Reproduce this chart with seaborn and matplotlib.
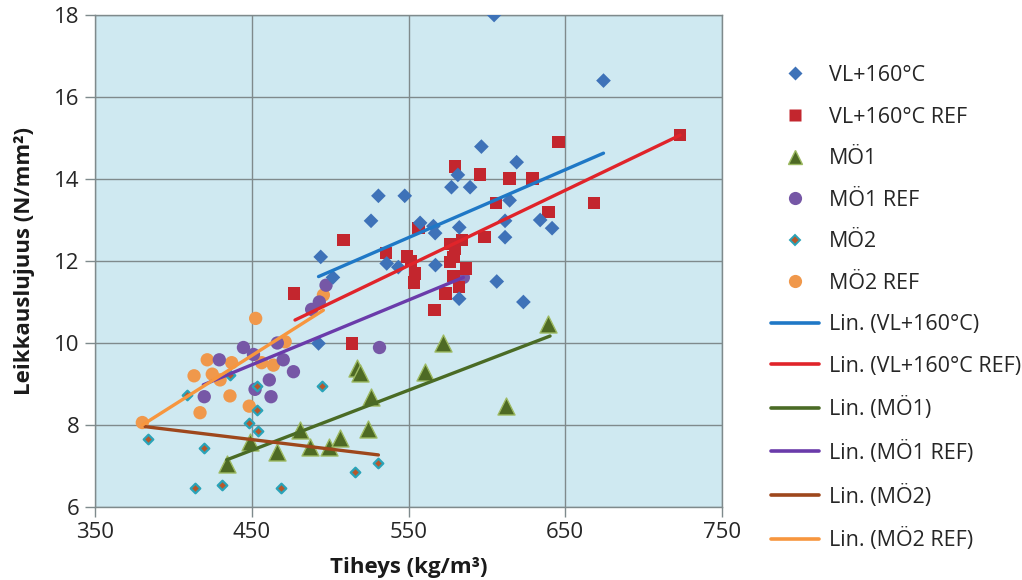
import numpy as np
import pandas as pd
import matplotlib
matplotlib.use("Agg")
import matplotlib.pyplot as plt
import seaborn as sns
from matplotlib.lines import Line2D

# ---------------- data ----------------
vl_x = [604.6, 674.4, 596.5, 619.0, 581.5, 577.4, 589.3, 530.8, 547.6, 614.5,
        526.1, 634.0, 641.6, 611.6, 611.6, 582.4, 557.4, 565.9, 567.0, 494.0,
        536.1, 543.5, 567.2, 501.8, 582.3, 606.3, 623.3, 492.6]
vl_y = [18.0, 16.4, 14.79, 14.41, 14.1, 13.8, 13.8, 13.59, 13.59, 13.48,
        12.98, 13.0, 12.8, 12.98, 12.58, 12.82, 12.93, 12.85, 12.68, 12.1,
        11.94, 11.85, 11.9, 11.6, 11.08, 11.5, 11.0, 9.99]

vlref_x = [723.3, 645.7, 579.5, 595.7, 614.3, 629.2, 606.0, 639.3, 668.4, 598.4,
           556.5, 508.5, 535.7, 549.0, 551.5, 554.2, 553.5, 576.5, 584.0, 579.5,
           578.6, 576.5, 586.5, 578.6, 582.4, 573.5, 566.5, 514.0, 477.1]
vlref_y = [15.07, 14.9, 14.31, 14.11, 14.01, 14.01, 13.41, 13.2, 13.41, 12.58,
           12.81, 12.51, 12.19, 12.11, 12.0, 11.7, 11.48, 12.42, 12.51, 12.3,
           12.1, 11.97, 11.82, 11.63, 11.37, 11.21, 10.8, 9.99, 11.21]

mo1_x = [434.0, 449.0, 466.0, 480.8, 487.2, 499.5, 506.0, 524.0, 526.1, 516.9,
         519.1, 560.6, 572.3, 612.0, 639.3]
mo1_y = [7.05, 7.59, 7.35, 7.88, 7.47, 7.47, 7.68, 7.9, 8.68, 9.4,
         9.26, 9.3, 9.99, 8.47, 10.46]

mo1ref_x = [419.7, 429.3, 444.7, 451.1, 452.1, 461.2, 462.3, 466.3, 470.1, 476.6,
            488.2, 493.1, 497.4, 531.5, 585.0]
mo1ref_y = [8.69, 9.59, 9.89, 9.72, 8.87, 9.1, 8.69, 10.0, 9.59, 9.3,
            10.82, 11.0, 11.41, 9.89, 11.6]

mo2_x = [384.0, 408.5, 413.8, 419.6, 431.2, 436.1, 448.3, 453.1, 453.6, 454.3,
         468.7, 495.0, 515.9, 530.8]
mo2_y = [7.65, 8.72, 6.46, 7.43, 6.54, 9.21, 8.04, 8.95, 8.37, 7.85,
         6.46, 8.94, 6.85, 7.07]

mo2ref_x = [380.2, 413.2, 417.0, 421.6, 424.8, 429.8, 436.1, 437.2, 448.4, 452.5,
            456.3, 463.8, 471.3, 495.7]
mo2ref_y = [8.06, 9.2, 8.3, 9.59, 9.24, 9.1, 8.71, 9.52, 8.46, 10.6,
            9.52, 9.46, 10.03, 11.17]

# trend line end points
lin_vl_x, lin_vl_y = [492.6, 674.4], [11.62, 14.63]
lin_vlref_x, lin_vlref_y = [477.6, 723.3], [10.56, 15.07]
lin_mo1_x, lin_mo1_y = [434.0, 640.3], [7.15, 10.17]
lin_mo1ref_x, lin_mo1ref_y = [419.1, 585.0], [8.98, 11.6]
lin_mo2_x, lin_mo2_y = [382.0, 530.8], [7.96, 7.27]
lin_mo2ref_x, lin_mo2ref_y = [380.2, 495.7], [8.0, 10.8]

x_ticks = [350, 450, 550, 650, 750]
y_ticks = [6, 8, 10, 12, 14, 16, 18]

# ---------------- style ----------------
sns.set_theme(style="white")
plt.rcParams['font.family'] = ['Open Sans', 'DejaVu Sans']
plt.rcParams['text.color'] = '#262626'

fig = plt.figure(figsize=(10.22, 5.8), dpi=100)
ax = fig.add_axes([95 / 1022, 1 - 507 / 580, (722 - 95) / 1022, (507 - 15) / 580])
ax.set_facecolor('#CFE9F1')
ax.set_axisbelow(True)

C_BLUE = '#3E72B8'
C_RED = '#C3262E'
C_GREEN = '#4E6A24'
C_PURPLE = '#7657A6'
C_MO2 = '#B8572A'
C_ORANGE = '#F0984B'

def scat(x, y, **kw):
    sns.scatterplot(x=x, y=y, ax=ax, legend=False, **kw)

scat(mo2ref_x, mo2ref_y, marker='o', s=92, color=C_ORANGE, edgecolor='none', zorder=3)
scat(mo1ref_x, mo1ref_y, marker='o', s=92, color=C_PURPLE, edgecolor='none', zorder=3)
scat(mo2_x, mo2_y, marker='D', s=24, color=C_MO2, edgecolor='#2AA3B8', linewidth=1.6, zorder=3)
scat(mo1_x, mo1_y, marker='^', s=150, color=C_GREEN, edgecolor='#9DBA62', linewidth=1.0, zorder=3)
scat(vlref_x, vlref_y, marker='s', s=80, color=C_RED, edgecolor='none', zorder=3)
scat(vl_x, vl_y, marker='D', s=56, color=C_BLUE, edgecolor='none', zorder=3)

L_BLUE = '#1F78C6'
L_RED = '#E0242A'
L_GREEN = '#4A6B25'
L_PURPLE = '#6A3BAA'
L_BROWN = '#9E471C'
L_ORANGE = '#F7963E'

def lin(x, y, c):
    sns.lineplot(x=x, y=y, ax=ax, color=c, linewidth=2.4, estimator=None,
                 sort=False, legend=False, zorder=4)

lin(lin_vl_x, lin_vl_y, L_BLUE)
lin(lin_vlref_x, lin_vlref_y, L_RED)
lin(lin_mo1_x, lin_mo1_y, L_GREEN)
lin(lin_mo1ref_x, lin_mo1ref_y, L_PURPLE)
lin(lin_mo2_x, lin_mo2_y, L_BROWN)
lin(lin_mo2ref_x, lin_mo2ref_y, L_ORANGE)

ax.set_xlim(350, 750)
ax.set_ylim(6, 18)
ax.set_xticks(x_ticks)
ax.set_yticks(y_ticks)
ax.grid(True, color='#7F8A8C', linewidth=1.0)
for sp in ax.spines.values():
    sp.set_color('#7F8A8C')
    sp.set_linewidth(1.0)
ax.tick_params(axis='both', which='major', direction='out', length=7, width=1.0,
               color='#7F8A8C', labelsize=16, labelcolor='#262626', pad=4,
               bottom=True, left=True)
ax.set_xlabel('Tiheys (kg/m³)', fontsize=16, fontweight='bold', color='#1A1A1A', labelpad=10)
ax.set_ylabel('Leikkauslujuus (N/mm²)', fontsize=16, fontweight='bold', color='#1A1A1A', labelpad=14)

# ---------------- legend ----------------
handles = [
    Line2D([], [], linestyle='none', marker='D', markersize=7.5, color=C_BLUE, markeredgecolor='none'),
    Line2D([], [], linestyle='none', marker='s', markersize=8.5, color=C_RED, markeredgecolor='none'),
    Line2D([], [], linestyle='none', marker='^', markersize=10, color=C_GREEN, markeredgecolor='#9DBA62'),
    Line2D([], [], linestyle='none', marker='o', markersize=9.5, color=C_PURPLE, markeredgecolor='none'),
    Line2D([], [], linestyle='none', marker='D', markersize=5, color=C_MO2, markeredgecolor='#2AA3B8', markeredgewidth=1.4),
    Line2D([], [], linestyle='none', marker='o', markersize=9.5, color=C_ORANGE, markeredgecolor='none'),
    Line2D([], [], color=L_BLUE, linewidth=2.6),
    Line2D([], [], color=L_RED, linewidth=2.6),
    Line2D([], [], color=L_GREEN, linewidth=2.6),
    Line2D([], [], color=L_PURPLE, linewidth=2.6),
    Line2D([], [], color=L_BROWN, linewidth=2.6),
    Line2D([], [], color=L_ORANGE, linewidth=2.6),
]
labels = ['VL+160°C', 'VL+160°C REF', 'MÖ1', 'MÖ1 REF', 'MÖ2', 'MÖ2 REF',
          'Lin. (VL+160°C)', 'Lin. (VL+160°C REF)', 'Lin. (MÖ1)', 'Lin. (MÖ1 REF)',
          'Lin. (MÖ2)', 'Lin. (MÖ2 REF)']
leg = fig.legend(handles, labels, loc='upper left', bbox_to_anchor=(771 / 1022, 1 - 65 / 580),
                 frameon=False, fontsize=15.5, handlelength=2.25, handletextpad=0.45,
                 labelspacing=0.955, borderaxespad=0, borderpad=0)
for t in leg.get_texts():
    t.set_color('#262626')

fig.savefig('out.png', dpi=100)
